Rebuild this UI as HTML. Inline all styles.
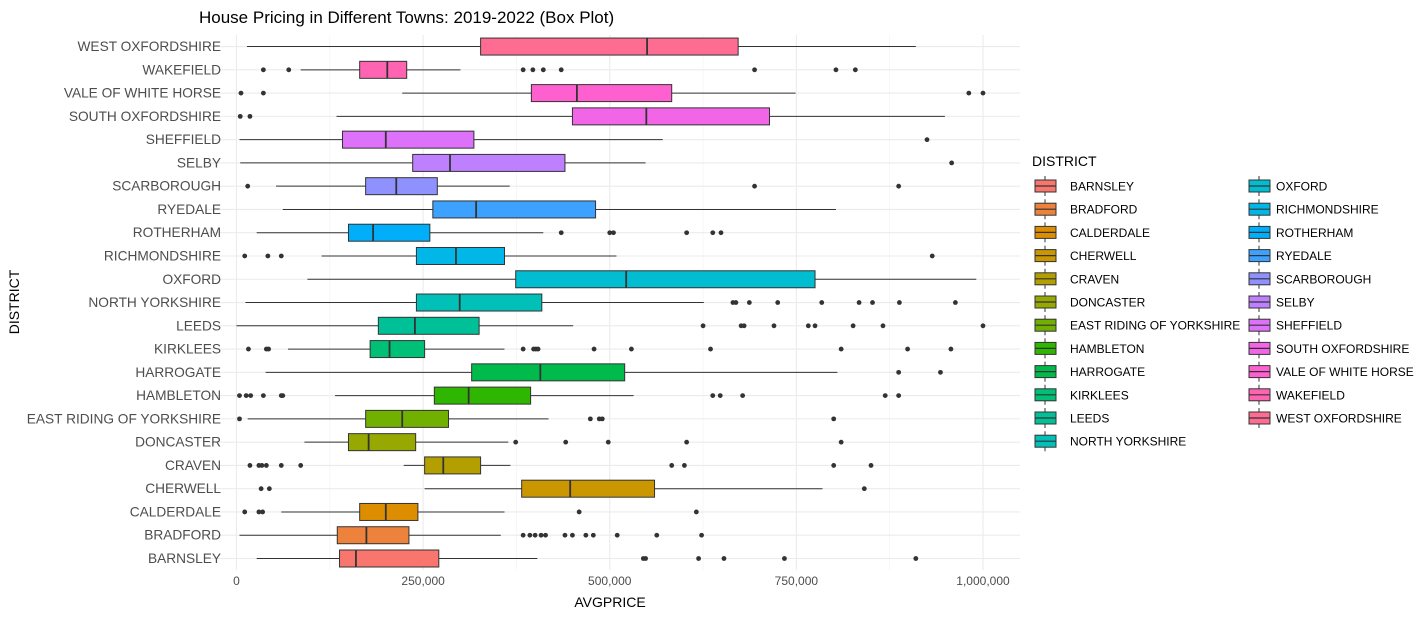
<!DOCTYPE html>
<html><head><meta charset="utf-8">
<style>
html,body{margin:0;padding:0;background:#fff;}
svg{display:block;font-family:"Liberation Sans",Arial,sans-serif;}
</style></head>
<body>
<svg id="chart" width="1424" height="617" viewBox="0 0 1424 617" xmlns="http://www.w3.org/2000/svg">
<text x="199" y="23" font-size="17" fill="#000">House Pricing in Different Towns: 2019-2022 (Box Plot)</text>
<g id="grid"></g>
<g id="boxes"></g>
<g id="yaxis"></g>
<g id="xaxis"></g>
<text x="610" y="607" font-size="14" text-anchor="middle" fill="#000">AVGPRICE</text>
<text transform="translate(19,302) rotate(-90)" font-size="14" text-anchor="middle" fill="#000">DISTRICT</text>
<g id="legend"></g>
</svg>
<script>
const districts = ["BARNSLEY","BRADFORD","CALDERDALE","CHERWELL","CRAVEN","DONCASTER","EAST RIDING OF YORKSHIRE","HAMBLETON","HARROGATE","KIRKLEES","LEEDS","NORTH YORKSHIRE","OXFORD","RICHMONDSHIRE","ROTHERHAM","RYEDALE","SCARBOROUGH","SELBY","SHEFFIELD","SOUTH OXFORDSHIRE","VALE OF WHITE HORSE","WAKEFIELD","WEST OXFORDSHIRE"];
// values in thousands
const whiskerLow = [27,4,60,252,224,91,15,132,39,69,0,12,95,114,27,62,53,5,4,134,222,86,14];
const q1 = [138,135,165,382,252,150,173,265,315,179,190,241,374,241,150,263,173,236,142,450,395,165,327];
const median = [160,174,200,447,277,177,222,311,407,205,239,299,522,294,183,321,214,286,200,549,456,202,550];
const q3 = [271,231,243,560,327,240,284,394,520,252,325,409,775,359,259,481,269,440,318,714,583,228,672];
const whiskerHigh = [403,354,359,785,367,364,418,532,805,359,451,626,991,509,411,803,366,548,571,949,749,300,910];
const outliers = [
 [545,548,619,653,734,910],
 [384,393,400,408,414,440,450,468,478,510,563,623],
 [11,30,35,459,616],
 [33,44,841],
 [18,30,34,40,60,86,583,600,800,850],
 [374,441,498,603,810],
 [4,474,486,490,800],
 [4,13,19,36,60,62,638,648,678,869,887],
 [887,943],
 [16,40,43,384,398,401,404,479,529,635,810,899,957],
 [625,676,680,720,766,775,826,866,1000],
 [665,669,687,725,784,834,852,888,963],
 [],
 [11,42,60,932],
 [435,500,505,603,638,649],
 [],
 [15,694,887],
 [958],
 [925],
 [5,18],
 [6,36,981,1000],
 [36,70,384,397,411,435,694,803,829],
 []
];
const xTicks = [0,250000,500000,750000,1000000];
const xTickLabels = ["0","250,000","500,000","750,000","1,000,000"];

const NS="http://www.w3.org/2000/svg";
function mk(tag,attrs,parent){const e=document.createElementNS(NS,tag);for(const k in attrs)e.setAttribute(k,attrs[k]);parent.appendChild(e);return e;}
const X0=236.5, XS=746.5/1000000;
function xs(v){return X0+v*XS;}
function ys(i){return 558.5-i*23.27;}
const PL=205,PR=1020,PT=35,PB=570;

function hcl(h,c,l){
  const hr=h*Math.PI/180;const L=l,U=c*Math.cos(hr),V=c*Math.sin(hr);
  const Xn=95.047,Yn=100,Zn=108.883;
  const un=4*Xn/(Xn+15*Yn+3*Zn),vn=9*Yn/(Xn+15*Yn+3*Zn);
  const Y=L>8?Yn*Math.pow((L+16)/116,3):Yn*L/903.3;
  const u=U/(13*L)+un,v=V/(13*L)+vn;
  const Xv=9*Y*u/(4*v),Z=-Xv/3-5*Y+3*Y/v;
  const x=Xv/100,y=Y/100,z=Z/100;
  let r=3.240479*x-1.53715*y-0.498535*z,g=-0.969256*x+1.875992*y+0.041556*z,b=0.055648*x-0.204043*y+1.057311*z;
  const gm=t=>{t=t>0.0031308?1.055*Math.pow(t,1/2.4)-0.055:12.92*t;return Math.round(Math.max(0,Math.min(1,t))*255);};
  return "rgb("+gm(r)+","+gm(g)+","+gm(b)+")";
}
const n=districts.length;
const colors=districts.map((d,i)=>hcl(15+i*360/n,100,65));

const grid=document.getElementById('grid');
[125000,375000,625000,875000].forEach(v=>{const l=mk('line',{x1:xs(v),x2:xs(v),y1:PT,y2:PB,stroke:'#f2f2f2','stroke-width':0.6},grid);});
xTicks.forEach(v=>{const l=mk('line',{x1:xs(v),x2:xs(v),y1:PT,y2:PB,stroke:'#ebebeb','stroke-width':1.1},grid);});
districts.forEach((d,i)=>{const l=mk('line',{x1:PL,x2:PR,y1:ys(i),y2:ys(i),stroke:'#ebebeb','stroke-width':1.1},grid);});

const boxes=document.getElementById('boxes');
const K=1000, BH=17;
districts.forEach((d,i)=>{
  const g=mk('g',{},boxes);
  
  
  const y=ys(i);
  mk('line',{x1:xs(whiskerLow[i]*K),x2:xs(q1[i]*K),y1:y,y2:y,stroke:'#333','stroke-width':1},g);
  mk('line',{x1:xs(q3[i]*K),x2:xs(whiskerHigh[i]*K),y1:y,y2:y,stroke:'#333','stroke-width':1},g);
  mk('rect',{x:xs(q1[i]*K),y:y-BH/2,width:xs(q3[i]*K)-xs(q1[i]*K),height:BH,fill:colors[i],stroke:'#333','stroke-width':1},g);
  mk('line',{x1:xs(median[i]*K),x2:xs(median[i]*K),y1:y-BH/2,y2:y+BH/2,stroke:'#333','stroke-width':1.8},g);
  outliers[i].forEach(o=>{const c=mk('circle',{cx:xs(o*K),cy:y,r:2.4,fill:'#333'},g);});
});

const ya=document.getElementById('yaxis');
districts.forEach((d,i)=>{const t=mk('text',{x:221,y:ys(i)+4.5,'font-size':13.7,'text-anchor':'end',fill:'#4d4d4d'},ya);t.textContent=d;});
const xa=document.getElementById('xaxis');
xTicks.forEach((v,i)=>{const t=mk('text',{x:xs(v),y:585,'font-size':12,'text-anchor':'middle',fill:'#4d4d4d'},xa);t.textContent=xTickLabels[i];});

const lg=document.getElementById('legend');
const lt=mk('text',{x:1032,y:166,'font-size':14,fill:'#000'},lg);lt.textContent='DISTRICT';

districts.forEach((d,i)=>{
  const col=i<12?0:1, row=i<12?i:i-12;
  const kx=col?1248:1034, ky=186+row*23.2;
  const g=mk('g',{},lg);
  
  
  mk('line',{x1:kx+11,x2:kx+11,y1:ky-10,y2:ky+10,stroke:'#333','stroke-width':1},g);
  mk('rect',{x:kx+1,y:ky-6,width:21,height:12,fill:colors[i],stroke:'#333','stroke-width':1},g);
  mk('line',{x1:kx+1,x2:kx+22,y1:ky,y2:ky,stroke:'#333','stroke-width':1.2},g);
  const t=mk('text',{x:kx+(col?28:36),y:ky+4.5,'font-size':12,fill:'#000'},g);t.textContent=d;
});
</script>
</body></html>
